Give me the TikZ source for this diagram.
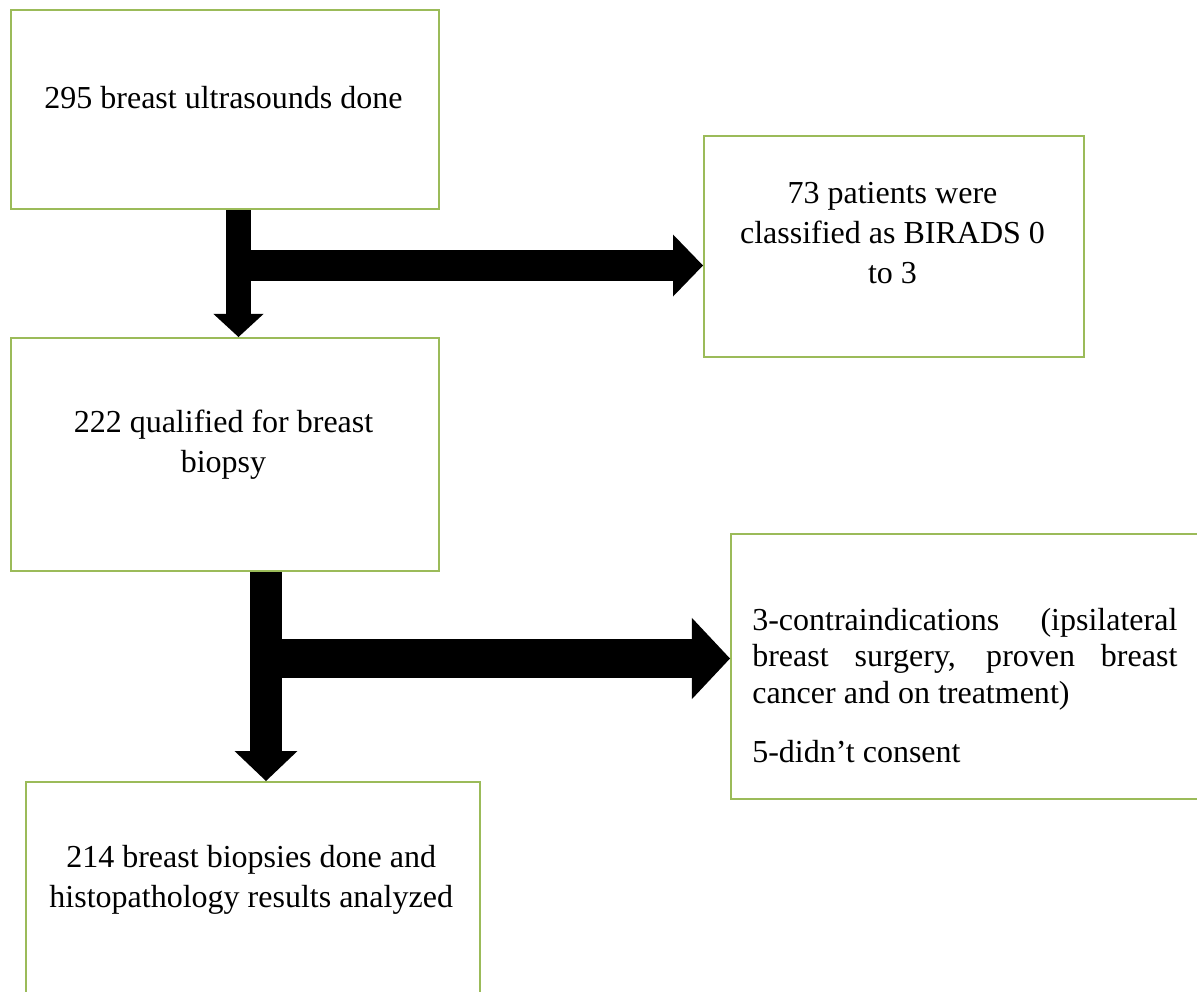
\documentclass[tikz,border=0pt]{standalone}
\usepackage{fontspec}
\setmainfont{Liberation Serif}
\usetikzlibrary{arrows.meta}
\definecolor{boxgreen}{RGB}{155,187,89}

\begin{document}
\begin{tikzpicture}
[x=0.025cm, y=-0.025cm, box/.style={draw=boxgreen, line width=1.5pt, rectangle, anchor=north west, inner sep=0}, txt/.style={font=\fontsize{22.76}{28.1}\selectfont, align=center, anchor=base, inner sep=0}, fat/.style n args={3}{line width=#1, -{Triangle[length=#2, width=#3, line width=0pt]}}]
\useasboundingbox (0, 0) rectangle (1197, 992);
\clip (0, 0) rectangle (1197, 992);
\node (1b) [box, minimum width=10.69cm, minimum height=4.975cm] at (10, 9) {};
\node (2b) [box, minimum width=9.5cm, minimum height=5.525cm] at (703, 135) {};
\node (3b) [box, minimum width=10.69cm, minimum height=5.825cm] at (10, 337) {};
\node (4b) [box, minimum width=12.5cm, minimum height=6.625cm] at (730, 533) {};
\node (5b) [box, minimum width=11.35cm, minimum height=6.225cm] at (25, 781) {};
\node (1t) [txt] at (223.5, 108) {295 breast ultrasounds done};
\node (2t) [txt] at (892.5, 283) {73 patients were\\classified as BIRADS 0\\to 3};
\node (3t) [txt] at (223.5, 472) {222 qualified for breast\\biopsy};
\node (4t) [txt, anchor=base west, align=justify, text width=10.625cm, font=\fontsize{22.76}{25.96}\selectfont] at (752, 630) {\setlength{\parskip}{0.5625cm}\setlength{\parindent}{0pt}3-contraindications (ipsilateral\linebreak breast surgery, proven breast\linebreak cancer and on treatment)\par 5-didn’t consent};
\node (5t) [txt] at (251.2, 907) {214 breast biopsies done and\\histopathology results analyzed};
\coordinate (j1) at (238.5, 265.5);
\coordinate (j2) at (266, 658.5);
\draw [fat={0.625cm}{0.575cm}{1.25cm}] (1b.south -| j1) -- (3b.north -| j1);
\draw [fat={0.775cm}{0.75cm}{1.55cm}] (j1) -- (2b.west |- j1);
\draw [fat={0.8cm}{0.75cm}{1.575cm}] (3b.south -| j2) -- (5b.north -| j2);
\draw [fat={0.975cm}{0.95cm}{2.025cm}] (j2) -- (4b.west |- j2);
\end{tikzpicture}
\end{document}
